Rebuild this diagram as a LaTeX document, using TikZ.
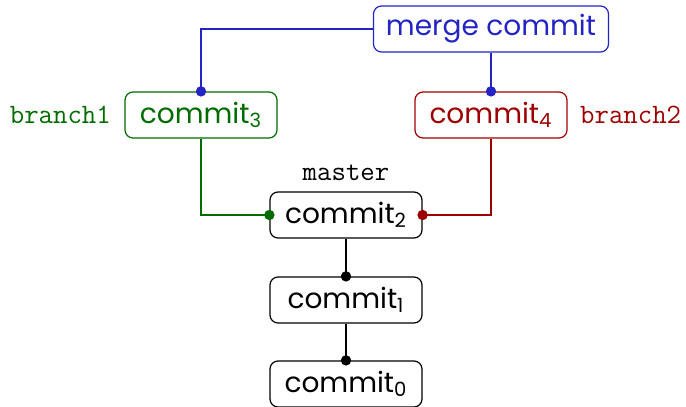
\documentclass[tikz,border=0pt]{standalone}
\usepackage{fontspec}
\setmainfont{Poppins}
\usetikzlibrary{positioning}
\definecolor{mergeblue}{RGB}{36,36,196}
\definecolor{branchgreen}{RGB}{0,108,0}
\definecolor{branchred}{RGB}{158,0,0}
\begin{document}
\begin{tikzpicture}[x=0.5pt,y=-0.5pt]
\tikzstyle{every path}+=[line width=0.6pt]
\tikzstyle{commit}=[draw, rounded corners=4pt, minimum width=76pt, minimum height=23pt, inner sep=0pt, font=\fontsize{14}{16}\selectfont]
\tikzstyle{tag}=[inner sep=0pt, font=\fontsize{14}{16}\selectfont\ttfamily]
\useasboundingbox (0,0) rectangle (686,407);
\node [commit, mergeblue, minimum width=117.5pt] (merge) at (491,29) {merge commit};
\node [commit, branchgreen] (c3) at (201,115) {commit\textsubscript{3}};
\node [commit, branchred] (c4) at (491,115) {commit\textsubscript{4}};
\node [commit] (c2) at (346,215) {commit\textsubscript{2}};
\node [commit] (c1) at (346,300) {commit\textsubscript{1}};
\node [commit] (c0) at (346,384) {commit\textsubscript{0}};
\node [tag, branchgreen, left=6.5pt of c3] (b1) {branch1};
\node [tag, branchred, right=6pt of c4] (b2) {branch2};
\node [tag, above=5pt of c2] (ms) {master};
% merge parents
\draw [mergeblue] (merge.west) -| (c3.north);
\fill [mergeblue] (c3.north) circle (2.6pt);
\draw [mergeblue] (merge.south) -- (c4.north);
\fill [mergeblue] (c4.north) circle (2.6pt);
% branches off master
\draw [branchgreen] (c3.south) |- (c2.west);
\fill [branchgreen] (c2.west) circle (2.6pt);
\draw [branchred] (c4.south) |- (c2.east);
\fill [branchred] (c2.east) circle (2.6pt);
% history
\draw [black] (c2.south) -- (c1.north);
\fill [black] (c1.north) circle (2.6pt);
\draw [black] (c1.south) -- (c0.north);
\fill [black] (c0.north) circle (2.6pt);
\end{tikzpicture}
\end{document}
